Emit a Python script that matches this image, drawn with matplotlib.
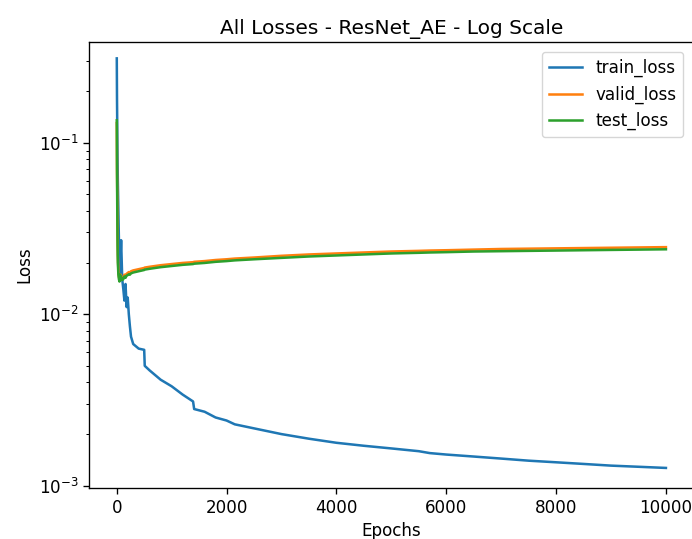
import matplotlib.pyplot as plt

# values (log scale)
epochs = [1, 5, 10, 15, 20, 30, 40, 50, 60, 70, 80, 100, 120, 140, 160, 180, 200,
          220, 240, 260, 300, 400, 500, 510, 600, 800, 1000, 1200, 1390, 1410,
          1600, 1800, 2000, 2150, 2500, 3000, 3500, 4000, 4500, 5000, 5500,
          5700, 6000, 6500, 7000, 7500, 8000, 8500, 9000, 9500, 10000]

train_loss = [0.31, 0.18, 0.12, 0.08, 0.06, 0.04, 0.027, 0.02, 0.017, 0.022, 0.027,
              0.016, 0.014, 0.012, 0.015, 0.011, 0.0125,
              0.010, 0.0085, 0.0074, 0.0067, 0.0063, 0.0062, 0.0050, 0.0047,
              0.00415, 0.0038, 0.0034, 0.0031, 0.0028,
              0.0027, 0.0025, 0.0024, 0.00228, 0.00216, 0.00200, 0.00188,
              0.00178, 0.00171, 0.00165, 0.00159,
              0.00155, 0.00152, 0.00148, 0.00144, 0.00140, 0.00137, 0.00134,
              0.00131, 0.00129, 0.00127]

valid_loss = [0.13, 0.07, 0.05, 0.03, 0.022, 0.018, 0.0165, 0.016, 0.0158, 0.017, 0.016,
              0.0162, 0.0165, 0.017, 0.0168, 0.0172, 0.0174,
              0.0176, 0.0175, 0.0178, 0.0180, 0.0183, 0.0186, 0.0187, 0.0189,
              0.0193, 0.0196, 0.0199, 0.0201, 0.0202,
              0.0204, 0.0207, 0.0209, 0.0211, 0.0214, 0.0219, 0.0223,
              0.0226, 0.0229, 0.0232, 0.0234,
              0.0235, 0.0236, 0.0238, 0.0240, 0.0241, 0.0242, 0.0243,
              0.0244, 0.0245, 0.0246]

test_loss = [0.135, 0.068, 0.04, 0.025, 0.02, 0.017, 0.016, 0.0155, 0.017, 0.0158, 0.0165,
             0.0158, 0.016, 0.0166, 0.0163, 0.0168, 0.0169,
             0.0171, 0.0170, 0.0173, 0.0175, 0.0178, 0.0181, 0.0182, 0.0184,
             0.0188, 0.0191, 0.0194, 0.0196, 0.0197,
             0.0199, 0.0202, 0.0204, 0.0206, 0.0209, 0.0213, 0.0217,
             0.0220, 0.0223, 0.0226, 0.0228,
             0.0229, 0.0230, 0.0232, 0.0233, 0.0234, 0.0235, 0.0236,
             0.0237, 0.0238, 0.0239]

s = 1.21  # reference was rendered at ~121 dpi
plt.rcParams['font.size'] = 10 * s

fig = plt.figure(figsize=(6.92, 5.39), dpi=100)
ax = fig.add_axes([0.129, 0.0946, 0.873, 0.8274])

ax.plot(epochs, train_loss, label='train_loss', lw=1.5 * s)
ax.plot(epochs, valid_loss, label='valid_loss', lw=1.5 * s)
ax.plot(epochs, test_loss, label='test_loss', lw=1.5 * s)

ax.set_yscale('log')
ax.set_xlim(-500, 10500)
ax.set_ylim(0.00097, 0.386)
ax.set_xticks([0, 2000, 4000, 6000, 8000, 10000])

ax.tick_params(which='major', length=3.5 * s, width=0.8 * s)
ax.tick_params(which='minor', length=2 * s, width=0.6 * s)
for sp in ax.spines.values():
    sp.set_linewidth(0.8 * s)

ax.set_title('All Losses - ResNet_AE - Log Scale', fontsize=12 * s)
ax.set_xlabel('Epochs')
ax.set_ylabel('Loss')
ax.legend(loc='upper right', borderaxespad=0.6)

fig.savefig('out.png', dpi=100)
